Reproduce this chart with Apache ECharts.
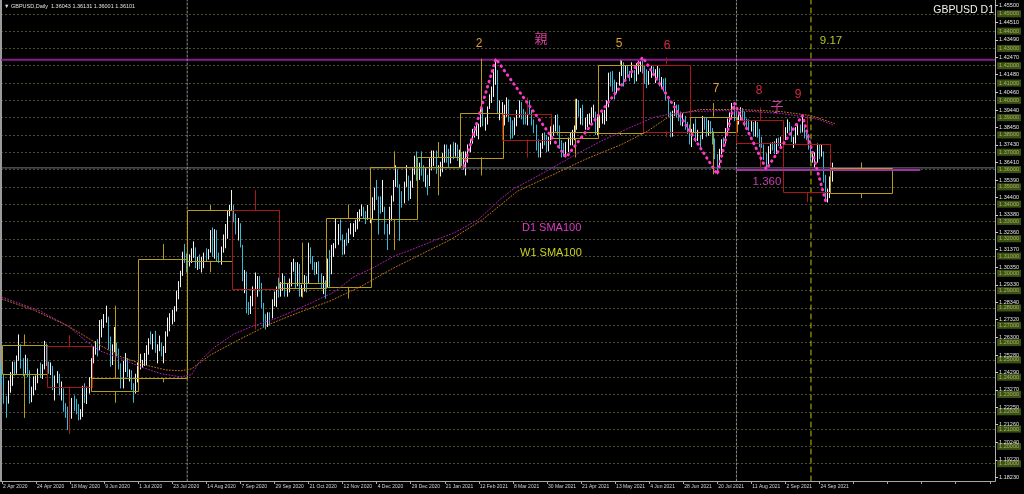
<!DOCTYPE html>
<html><head><meta charset="utf-8">
<script src="https://cdn.jsdelivr.net/npm/echarts@6/dist/echarts.min.js"></script>
<style>html,body{margin:0;padding:0;background:#000;}#c{width:1024px;height:494px;}</style>
</head><body><div id="c"></div>
<script>
// ---------- DATA ----------
const tickLabels = ['2 Apr 2020','24 Apr 2020','18 May 2020','9 Jun 2020','1 Jul 2020','23 Jul 2020','14 Aug 2020','7 Sep 2020','29 Sep 2020','21 Oct 2020','12 Nov 2020','4 Dec 2020','29 Dec 2020','21 Jan 2021','12 Feb 2021','8 Mar 2021','30 Mar 2021','21 Apr 2021','13 May 2021','4 Jun 2021','28 Jun 2021','20 Jul 2021','11 Aug 2021','2 Sep 2021','24 Sep 2021'];
const priceLabels = [1.45500,1.44510,1.43490,1.42470,1.41480,1.40460,1.39440,1.38450,1.37430,1.36410,1.35390,1.34400,1.33380,1.32360,1.31370,1.30350,1.29330,1.28340,1.27320,1.26300,1.25280,1.24290,1.23270,1.22250,1.21260,1.20240,1.19220,1.18230];
const gridLevels = [1.45,1.44,1.43,1.42,1.41,1.40,1.39,1.38,1.37,1.36,1.35,1.34,1.33,1.32,1.31,1.30,1.29,1.28,1.27,1.26,1.25,1.24,1.23,1.22,1.21,1.20,1.19];

const firstOpen = 1.2415;
const closes = [
[1.2414,1.2266,1.2258,1.2348,1.2408,1.2455,1.2451,1.2508,1.2575,1.2488,1.2455,1.2500,1.2435,1.2305,1.2320,1.2355,1.2370,1.2430,1.2413,1.2455,1.2594],
[1.2490,1.2440,1.2445,1.2340,1.2400,1.2405,1.2330,1.2330,1.2230,1.2208,1.2115,1.2195,1.2245,1.2230,1.2225,1.2165,1.2180,1.2335,1.2265,1.2325,1.2345],
[1.2490,1.2565,1.2580,1.2565,1.2670,1.2715,1.2740,1.2740,1.2590,1.2545,1.2570,1.2570,1.2545,1.2475,1.2350,1.2470,1.2490,1.2415,1.2415,1.2335,1.2320,1.2400],
[1.2475,1.2475,1.2480,1.2485,1.2535,1.2610,1.2605,1.2615,1.2560,1.2565,1.2575,1.2545,1.2565,1.2650,1.2730,1.2735,1.2740,1.2790,1.2875,1.2935,1.2990,1.3090,1.3087],
[1.3075,1.3075,1.3110,1.3145,1.3055,1.3070,1.3045,1.3045,1.3110,1.3090,1.3125,1.3240,1.3100,1.3240,1.3090,1.3085,1.3140,1.3210,1.3210,1.3350,1.3372],
[1.3385,1.3315,1.3265,1.3280,1.3155,1.2985,1.2990,1.2800,1.2795,1.2850,1.2910,1.2935,1.2960,1.2920,1.2815,1.2730,1.2725,1.2750,1.2745,1.2830,1.2835,1.2920],
[1.2880,1.2940,1.2975,1.2880,1.2935,1.2940,1.3045,1.3055,1.2935,1.3050,1.2910,1.2915,1.2950,1.2940,1.3135,1.3085,1.3045,1.3030,1.3050,1.2970,1.2920,1.2945],
[1.2935,1.3050,1.3000,1.3150,1.3150,1.3175,1.3270,1.3210,1.3115,1.3190,1.3185,1.3245,1.3255,1.3265,1.3285,1.3315,1.3355,1.3365,1.3345,1.3315,1.3325],
[1.3360,1.3370,1.3465,1.3440,1.3385,1.3365,1.3375,1.3280,1.3225,1.3325,1.3440,1.3505,1.3580,1.3515,1.3450,1.3425,1.3500,1.3545,1.3440,1.3500,1.3580,1.3614],
[1.3570,1.3610,1.3605,1.3565,1.3565,1.3515,1.3645,1.3660,1.3685,1.3595,1.3595,1.3615,1.3665,1.3725,1.3685,1.3675,1.3735,1.3690,1.3735,1.3670],
[1.3675,1.3645,1.3665,1.3665,1.3730,1.3755,1.3820,1.3820,1.3840,1.3850,1.3885,1.3860,1.3870,1.3955,1.4010,1.4070,1.4130,1.4145,1.3925,1.3929],
[1.3935,1.3955,1.3960,1.3890,1.3840,1.3830,1.3885,1.3925,1.3975,1.3925,1.3895,1.3890,1.3965,1.3935,1.3865,1.3855,1.3745,1.3715,1.3735,1.3795,1.3770,1.3745,1.3782],
[1.3830,1.3830,1.3890,1.3835,1.3740,1.3725,1.3710,1.3730,1.3775,1.3790,1.3800,1.3840,1.3955,1.3925,1.3930,1.3875,1.3875,1.3880,1.3910,1.3920,1.3930,1.3815],
[1.3885,1.3895,1.3905,1.3905,1.3985,1.4140,1.4135,1.4095,1.4050,1.4095,1.4150,1.4215,1.4125,1.4185,1.4150,1.4145,1.4145,1.4120,1.4200,1.4205,1.4215],
[1.4195,1.4110,1.4090,1.4160,1.4180,1.4165,1.4170,1.4175,1.4110,1.4110,1.4100,1.4015,1.3920,1.3805,1.3935,1.3960,1.3955,1.3910,1.3880,1.3880,1.3840,1.3827],
[1.3755,1.3825,1.3835,1.3800,1.3800,1.3775,1.3890,1.3875,1.3810,1.3855,1.3825,1.3760,1.3690,1.3640,1.3705,1.3760,1.3750,1.3825,1.3880,1.3905,1.3945,1.3903],
[1.3885,1.3900,1.3935,1.3915,1.3875,1.3865,1.3845,1.3860,1.3800,1.3870,1.3830,1.3745,1.3740,1.3680,1.3640,1.3720,1.3735,1.3730,1.3720,1.3760,1.3755,1.3757],
[1.3795,1.3835,1.3870,1.3835,1.3770,1.3770,1.3830,1.3835,1.3830,1.3835,1.3815,1.3790,1.3735,1.3665,1.3665,1.3665,1.3730,1.3675,1.3700,1.3545,1.3435,1.3472],
[1.3535,1.3605,1.3610]
].flat();
const highs = [
[1.2475,1.2420,1.2291,1.2381,1.2430,1.2490,1.2490,1.2525,1.2647,1.2590,1.2510,1.2530,1.2510,1.2440,1.2345,1.2405,1.2410,1.2450,1.2485,1.2475,1.2610],
[1.2587,1.2480,1.2485,1.2465,1.2410,1.2435,1.2420,1.2375,1.2335,1.2250,1.2230,1.2215,1.2280,1.2295,1.2275,1.2245,1.2215,1.2350,1.2365,1.2345,1.2400],
[1.2510,1.2580,1.2608,1.2620,1.2730,1.2735,1.2765,1.2813,1.2750,1.2635,1.2590,1.2690,1.2600,1.2565,1.2480,1.2495,1.2540,1.2510,1.2445,1.2440,1.2365,1.2420],
[1.2485,1.2535,1.2500,1.2540,1.2585,1.2625,1.2665,1.2650,1.2668,1.2590,1.2640,1.2600,1.2580,1.2665,1.2745,1.2770,1.2790,1.2810,1.2900,1.2955,1.3015,1.3125,1.3170],
[1.3115,1.3110,1.3145,1.3185,1.3150,1.3095,1.3110,1.3095,1.3120,1.3145,1.3140,1.3250,1.3265,1.3255,1.3250,1.3120,1.3155,1.3225,1.3285,1.3365,1.3395],
[1.3482,1.3395,1.3345,1.3320,1.3290,1.3165,1.3020,1.3010,1.2835,1.2870,1.2925,1.3005,1.2985,1.2985,1.2945,1.2830,1.2765,1.2775,1.2775,1.2850,1.2895,1.2925],
[1.2975,1.2950,1.3000,1.2985,1.2945,1.2970,1.3065,1.3085,1.3065,1.3065,1.3055,1.2935,1.2990,1.2985,1.3177,1.3150,1.3100,1.3065,1.3065,1.3070,1.3000,1.2985],
[1.2960,1.3085,1.3135,1.3165,1.3175,1.3315,1.3285,1.3312,1.3225,1.3195,1.3235,1.3260,1.3290,1.3290,1.3310,1.3355,1.3370,1.3398,1.3385,1.3360,1.3395],
[1.3420,1.3440,1.3495,1.3540,1.3445,1.3445,1.3540,1.3385,1.3285,1.3385,1.3450,1.3540,1.3625,1.3600,1.3515,1.3475,1.3530,1.3625,1.3565,1.3535,1.3615,1.3680],
[1.3705,1.3640,1.3705,1.3625,1.3615,1.3570,1.3665,1.3710,1.3710,1.3710,1.3625,1.3645,1.3695,1.3745,1.3745,1.3720,1.3745,1.3760,1.3755,1.3745],
[1.3715,1.3700,1.3705,1.3705,1.3745,1.3775,1.3835,1.3850,1.3865,1.3865,1.3955,1.3955,1.3900,1.3965,1.4035,1.4080,1.4180,1.4241,1.4175,1.4000],
[1.3990,1.3975,1.4017,1.4005,1.3905,1.3885,1.3900,1.3945,1.4000,1.3990,1.3950,1.3935,1.3985,1.4000,1.3945,1.3890,1.3860,1.3775,1.3755,1.3810,1.3815,1.3800,1.3790],
[1.3850,1.3860,1.3915,1.3920,1.3855,1.3770,1.3755,1.3760,1.3785,1.3815,1.3830,1.3855,1.4009,1.4000,1.3955,1.3975,1.3900,1.3920,1.3925,1.3960,1.3975,1.3935],
[1.3920,1.3915,1.3930,1.3945,1.4000,1.4160,1.4165,1.4170,1.4120,1.4105,1.4165,1.4235,1.4220,1.4200,1.4200,1.4170,1.4220,1.4175,1.4215,1.4230,1.4225],
[1.4249,1.4205,1.4180,1.4170,1.4200,1.4195,1.4180,1.4200,1.4185,1.4135,1.4125,1.4130,1.4020,1.3935,1.3940,1.3990,1.3975,1.3975,1.3935,1.3925,1.3910,1.3875],
[1.3860,1.3835,1.3865,1.3895,1.3830,1.3800,1.3910,1.3905,1.3900,1.3885,1.3880,1.3840,1.3780,1.3690,1.3720,1.3775,1.3785,1.3840,1.3895,1.3930,1.3985,1.3970],
[1.3930,1.3935,1.3960,1.3955,1.3935,1.3895,1.3890,1.3880,1.3875,1.3880,1.3875,1.3835,1.3790,1.3745,1.3695,1.3735,1.3755,1.3760,1.3765,1.3780,1.3785,1.3790],
[1.3805,1.3845,1.3890,1.3875,1.3850,1.3790,1.3845,1.3865,1.3860,1.3913,1.3845,1.3830,1.3805,1.3740,1.3690,1.3700,1.3750,1.3745,1.3745,1.3705,1.3570,1.3490],
[1.3560,1.3640,1.3613]
].flat();
const lows = [
[1.2355,1.2247,1.2165,1.2247,1.2310,1.2350,1.2410,1.2420,1.2495,1.2450,1.2405,1.2420,1.2400,1.2247,1.2255,1.2295,1.2325,1.2365,1.2395,1.2390,1.2445],
[1.2465,1.2420,1.2412,1.2325,1.2265,1.2365,1.2295,1.2265,1.2200,1.2165,1.2095,1.2075,1.2160,1.2205,1.2185,1.2150,1.2155,1.2170,1.2250,1.2245,1.2305],
[1.2335,1.2480,1.2530,1.2520,1.2555,1.2630,1.2685,1.2715,1.2560,1.2460,1.2470,1.2545,1.2520,1.2445,1.2335,1.2335,1.2430,1.2400,1.2375,1.2325,1.2252,1.2305],
[1.2370,1.2445,1.2455,1.2465,1.2470,1.2530,1.2590,1.2560,1.2540,1.2480,1.2550,1.2520,1.2480,1.2540,1.2635,1.2665,1.2705,1.2720,1.2780,1.2850,1.2920,1.2985,1.3060],
[1.3005,1.3040,1.3060,1.3090,1.3030,1.3020,1.3025,1.3005,1.3030,1.3070,1.3080,1.3120,1.3095,1.3085,1.3070,1.3060,1.3050,1.3120,1.3145,1.3200,1.3330],
[1.3360,1.3295,1.3225,1.3190,1.3150,1.2955,1.2885,1.2770,1.2760,1.2765,1.2810,1.2885,1.2865,1.2895,1.2800,1.2690,1.2676,1.2690,1.2700,1.2740,1.2810,1.2805],
[1.2860,1.2865,1.2900,1.2865,1.2865,1.2890,1.2925,1.3010,1.2915,1.2925,1.2865,1.2865,1.2895,1.2890,1.2945,1.3055,1.3020,1.2990,1.2995,1.2945,1.2915,1.2880],
[1.2854,1.2920,1.2915,1.2995,1.3095,1.3145,1.3165,1.3190,1.3105,1.3110,1.3160,1.3175,1.3225,1.3210,1.3240,1.3255,1.3300,1.3330,1.3320,1.3285,1.3310],
[1.3290,1.3315,1.3365,1.3425,1.3225,1.3345,1.3355,1.3225,1.3135,1.3250,1.3305,1.3415,1.3500,1.3495,1.3188,1.3380,1.3405,1.3505,1.3420,1.3430,1.3495,1.3570],
[1.3535,1.3540,1.3565,1.3530,1.3500,1.3451,1.3505,1.3595,1.3620,1.3575,1.3520,1.3560,1.3585,1.3640,1.3640,1.3610,1.3635,1.3660,1.3675,1.3650],
[1.3610,1.3620,1.3600,1.3566,1.3640,1.3700,1.3750,1.3785,1.3795,1.3775,1.3845,1.3850,1.3825,1.3860,1.3950,1.3985,1.4020,1.4090,1.3920,1.3885],
[1.3890,1.3855,1.3905,1.3875,1.3775,1.3780,1.3800,1.3850,1.3900,1.3890,1.3860,1.3860,1.3855,1.3915,1.3855,1.3810,1.3710,1.3670,1.3670,1.3720,1.3740,1.3700,1.3705],
[1.3745,1.3795,1.3820,1.3800,1.3720,1.3670,1.3675,1.3670,1.3700,1.3740,1.3740,1.3770,1.3830,1.3905,1.3860,1.3855,1.3830,1.3845,1.3860,1.3865,1.3900,1.3800],
[1.3800,1.3840,1.3865,1.3860,1.3880,1.3960,1.4080,1.4050,1.4005,1.4040,1.4085,1.4140,1.4080,1.4110,1.4135,1.4110,1.4130,1.4095,1.4110,1.4150,1.4165],
[1.4155,1.4095,1.4070,1.4090,1.4130,1.4140,1.4100,1.4130,1.4080,1.4070,1.4050,1.4000,1.3905,1.3787,1.3790,1.3910,1.3900,1.3880,1.3855,1.3850,1.3830,1.3805],
[1.3745,1.3730,1.3810,1.3760,1.3765,1.3730,1.3775,1.3830,1.3790,1.3795,1.3805,1.3745,1.3660,1.3572,1.3620,1.3690,1.3730,1.3750,1.3810,1.3845,1.3900,1.3880],
[1.3860,1.3860,1.3880,1.3880,1.3850,1.3830,1.3825,1.3820,1.3790,1.3790,1.3785,1.3730,1.3725,1.3655,1.3602,1.3630,1.3690,1.3710,1.3690,1.3690,1.3735,1.3725],
[1.3735,1.3770,1.3810,1.3820,1.3760,1.3725,1.3750,1.3800,1.3810,1.3815,1.3780,1.3770,1.3715,1.3645,1.3640,1.3610,1.3640,1.3660,1.3675,1.3525,1.3412,1.3410],
[1.3435,1.3530,1.3600]
].flat();

// monthly candles (higher time-frame boxes)
const mStart = [0,21,42,64,87,108,130,152,173,195,215,235,258,280,301,323,345,367,389];
const mEnd   = [21,42,64,87,108,130,152,173,195,215,235,258,280,301,323,345,367,389,418];
const mOpen  = [1.2419,1.2580,1.2320,1.2392,1.3072,1.3365,1.2915,1.2922,1.3315,1.3614,1.3670,1.3922,1.3778,1.3814,1.4206,1.3820,1.3885,1.3748,1.3460];
const mClose = [1.2587,1.2344,1.2395,1.3082,1.3365,1.2909,1.2945,1.3318,1.3614,1.3670,1.3929,1.3774,1.3815,1.4206,1.3820,1.3906,1.3751,1.3468,1.3607];
const mHigh  = [1.2647,1.2643,1.2813,1.3170,1.3395,1.3482,1.3177,1.3398,1.3705,1.3759,1.4241,1.4017,1.4009,1.4234,1.4249,1.3984,1.3959,1.3913,1.3641];
const mLow   = [1.2165,1.2075,1.2252,1.2370,1.3006,1.2676,1.2860,1.2854,1.3135,1.3451,1.3566,1.3669,1.3670,1.3800,1.3787,1.3572,1.3602,1.3412,1.3434];

// moving averages (bar index, value)
const d1SmaIdx = [0,9,18,31,40,46,56,65,75,84,89,93,100,109,118,128,137,146,156,165,175,184,193,201,213,224,234,240,253,267,281,295,306,315,325,338,353,366,376,384,391];
const d1Sma    = [1.2863,1.2823,1.2782,1.2696,1.2604,1.2552,1.2506,1.2460,1.2419,1.2402,1.2414,1.2494,1.2575,1.2650,1.2696,1.2736,1.2782,1.2834,1.2892,1.2978,1.3036,1.3099,1.3140,1.3180,1.3238,1.3313,1.3428,1.3486,1.3572,1.3670,1.3762,1.3843,1.3901,1.3924,1.3935,1.3941,1.3935,1.3924,1.3906,1.3889,1.3854];
const w1SmaIdx = [0,15,31,45,56,67,77,84,89,98,112,126,140,154,169,183,197,211,226,242,258,274,291,303,314,328,347,366,380,391];
const w1Sma    = [1.2852,1.2788,1.2696,1.2592,1.2517,1.2471,1.2442,1.2437,1.2448,1.2529,1.2621,1.2708,1.2777,1.2840,1.2927,1.3025,1.3111,1.3197,1.3313,1.3474,1.3566,1.3659,1.3745,1.3820,1.3912,1.3947,1.3947,1.3935,1.3912,1.3866];

// zigzag (wave swings)
const zzIdx = [217,232,265,301,336,344,359,376,387];
const zzVal = [1.3620,1.4241,1.3670,1.4249,1.3572,1.3984,1.3602,1.3913,1.3412];

// horizontal / vertical levels
const topLevel = 1.4235, bidLevel = 1.3610, childLevel = 1.3598;
const childLevelFrom = 345, childLevelTo = 431;
const yearSeparators = [87, 345];
const markerBar = 380; // 9.17
const N = 467;

// ---------- BUILD ----------
const cats = Array.from({length: N}, (_, i) => String(i));
const candles = closes.map((c, i) => {
  const o = i === 0 ? firstOpen : closes[i - 1];
  return [o, c, Math.min(lows[i], o, c), Math.max(highs[i], o, c)];
});
const monthly = mStart.map((s, i) => [s, mEnd[i], mOpen[i], mClose[i], mLow[i], mHigh[i]]);
const pairs = (idx, val) => idx.map((x, i) => [x, val[i]]);
const YMIN = 1.18, YMAX = 1.458;
const FONT = 'Liberation Sans, Arial, sans-serif';
const CJK = 'Noto Sans CJK JP, sans-serif';

function lineSeries(data, color, width, type, z) {
  return {type: 'line', data, showSymbol: false, symbol: 'none', silent: true, z: z || 6,
    lineStyle: {color, width, type: type || 'solid', cap: 'round'}, animation: false};
}

const series = [
  {type: 'candlestick', data: candles, barWidth: 1, z: 2,
   itemStyle: {color: '#f4f4f4', color0: '#36bad9', borderColor: '#f4f4f4', borderColor0: '#36bad9', borderWidth: 1}},
  {type: 'custom', z: 4, clip: true, silent: true, data: monthly,
   encode: {x: [0, 1], y: [2, 3, 4, 5]},
   renderItem(params, api) {
     const s = api.value(0), e = api.value(1), o = api.value(2), c = api.value(3), l = api.value(4), h = api.value(5);
     const x0 = api.coord([s, o])[0], x1 = api.coord([e, o])[0];
     const yO = api.coord([s, o])[1], yC = api.coord([s, c])[1];
     const yL = api.coord([s, l])[1], yH = api.coord([s, h])[1];
     const top = Math.min(yO, yC), bot = Math.max(yO, yC), xm = Math.round((x0 + x1) / 2) + 0.5;
     const col = c >= o ? '#b89c14' : '#a81616';
     return {type: 'group', children: [
       {type: 'rect', shape: {x: Math.round(x0) + 0.5, y: Math.round(top) + 0.5, width: Math.round(x1 - x0), height: Math.max(1, Math.round(bot - top))}, style: {fill: 'none', stroke: col, lineWidth: 1}},
       {type: 'line', shape: {x1: xm, y1: top, x2: xm, y2: Math.min(top, yH)}, style: {stroke: col, lineWidth: 1}},
       {type: 'line', shape: {x1: xm, y1: bot, x2: xm, y2: Math.max(bot, yL)}, style: {stroke: col, lineWidth: 1}}
     ]};
   }},
  lineSeries([[0, topLevel], [N - 1, topLevel]], '#8a1d8c', 2, 'solid', 3),
  lineSeries([[0, bidLevel], [N - 1, bidLevel]], '#5a636c', 1.2, 'solid', 3),
  lineSeries([[childLevelFrom, childLevel], [childLevelTo, childLevel]], '#a0309f', 2, 'solid', 5),
  lineSeries([[yearSeparators[0], YMIN], [yearSeparators[0], YMAX]], '#8c8c8c', 1, [2, 2], 3),
  lineSeries([[yearSeparators[1], YMIN], [yearSeparators[1], YMAX]], '#8c8c8c', 1, [2, 2], 3),
  lineSeries([[markerBar, YMIN], [markerBar, YMAX]], '#c2c200', 1, [5, 4], 3),
  lineSeries(pairs(w1SmaIdx, w1Sma), '#c27418', 1, [1, 2], 6),
  lineSeries(pairs(d1SmaIdx, d1Sma), '#b21cb4', 1, [1, 2], 7),
  lineSeries(pairs(zzIdx, zzVal), '#ff38c8', 3, [0.5, 5], 8)
];

function txt(text, x, y, color, size, align, font) {
  return {type: 'text', x, y, z: 100, silent: true,
    style: {text, fill: color, font: size + 'px ' + (font || FONT), align: align || 'center', verticalAlign: 'middle'}};
}

const option = {
  backgroundColor: '#000000',
  animation: false,
  grid: {left: 0, right: 27, top: 0, bottom: 13, containLabel: false},
  xAxis: {type: 'category', data: cats, boundaryGap: true,
    axisLine: {show: true, lineStyle: {color: '#a8a8a8', width: 1}},
    axisTick: {show: true, interval: 15, alignWithLabel: true, length: 3, lineStyle: {color: '#a8a8a8'}},
    axisLabel: {show: true, interval: 15, color: '#d4d4d4', fontSize: 5, fontFamily: FONT, align: 'left', margin: 3, padding: [0, 0, 0, 1],
      formatter: (v, i) => (i % 16 === 0 && tickLabels[i / 16]) ? tickLabels[i / 16] : ''},
    splitLine: {show: false}},
  yAxis: [
    {type: 'value', position: 'right', min: YMIN, max: YMAX, interval: 0.01, scale: true,
     axisLine: {show: true, lineStyle: {color: '#b0b0b0', width: 1}},
     axisTick: {show: false, customValues: gridLevels},
     splitLine: {show: true, lineStyle: {color: '#4f4f33', width: 1, type: [2, 2]}},
     axisLabel: {show: true, customValues: gridLevels, formatter: v => v.toFixed(5), color: '#a7b16a', backgroundColor: '#3c5214',
       fontSize: 5.5, fontFamily: FONT, padding: [1, 2, 0, 2], margin: 2, lineHeight: 6}},
    {type: 'value', position: 'right', min: YMIN, max: YMAX, scale: true,
     axisLine: {show: false}, splitLine: {show: false},
     axisTick: {show: true, customValues: priceLabels, length: 3, lineStyle: {color: '#c8c8c8'}},
     axisLabel: {show: true, customValues: priceLabels, formatter: v => v.toFixed(5), color: '#e6e6e6', fontSize: 5.5, fontFamily: FONT, margin: 4}},
    {type: 'value', position: 'left', min: YMIN, max: YMAX, scale: true,
     axisLine: {show: true, lineStyle: {color: '#9a9a9a', width: 2}},
     axisTick: {show: false}, axisLabel: {show: false}, splitLine: {show: false}}
  ],
  series,
  graphic: [
    txt('\u25BC GBPUSD,Daily  1.36043 1.36131 1.36001 1.36101', 4, 6, '#e0e0e0', 5.5, 'left'),
    txt('GBPUSD D1', 994, 10, '#f2f2f2', 10.5, 'right'),
    txt('2', 479, 44, '#e0a030', 12),
    txt('親', 541, 38, '#dc3e9e', 13, 'center', CJK),
    txt('5', 619, 44, '#e0a030', 12),
    txt('6', 667, 46, '#d82a3e', 12),
    txt('7', 716, 89, '#e0a030', 12),
    txt('8', 759, 91, '#d82a3e', 12),
    txt('9', 798, 95, '#d82a3e', 12),
    txt('子', 777, 106, '#d23ea6', 13, 'center', CJK),
    txt('1.360', 767, 182, '#c93db2', 11.5),
    txt('9.17', 831, 41, '#b6c22a', 11.5),
    txt('D1 SMA100', 522, 228, '#e03cc6', 11, 'left'),
    txt('W1 SMA100', 520, 253, '#c8d41e', 11, 'left')
  ]
};

const chart = echarts.init(document.getElementById('c'), null, {renderer: 'canvas'});
chart.setOption(option);
</script></body></html>
